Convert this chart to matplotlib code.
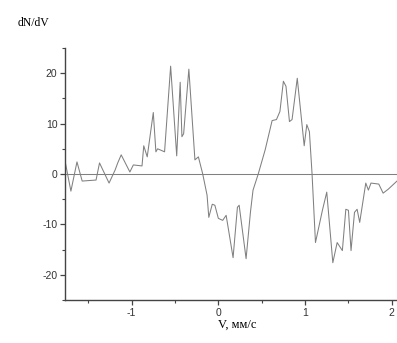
import numpy as np
import matplotlib
matplotlib.use("Agg")
import matplotlib.pyplot as plt
from matplotlib.ticker import MultipleLocator

# velocity (mm/s) and derivative dN/dV
velocity = [-1.77, -1.70, -1.63, -1.57, -1.41, -1.37, -1.26, -1.19, -1.16, -1.12,
            -1.02, -0.98, -0.88, -0.86, -0.82, -0.75, -0.72, -0.70, -0.62, -0.55,
            -0.48, -0.44, -0.42, -0.40, -0.34, -0.27, -0.23, -0.18, -0.13, -0.11,
            -0.07, -0.04, 0.00, 0.05, 0.09, 0.17, 0.22, 0.24, 0.32, 0.37,
            0.40, 0.46, 0.54, 0.62, 0.67, 0.71, 0.75, 0.78, 0.82, 0.85,
            0.91, 0.99, 1.02, 1.05, 1.08, 1.12, 1.20, 1.25, 1.32, 1.37,
            1.43, 1.47, 1.50, 1.53, 1.57, 1.60, 1.63, 1.70, 1.73, 1.76,
            1.85, 1.90, 1.96, 2.06]
dndv = [2.8, -3.4, 2.4, -1.4, -1.2, 2.2, -1.8, 0.8, 2.2, 3.8,
        0.4, 1.8, 1.6, 5.6, 3.4, 12.2, 4.4, 5.0, 4.4, 21.4,
        3.6, 18.2, 7.4, 8.0, 20.8, 2.8, 3.4, 0.0, -4.2, -8.6,
        -6.0, -6.2, -8.8, -9.2, -8.2, -16.6, -6.6, -6.2, -16.8, -7.6,
        -3.2, 0.0, 4.8, 10.6, 10.8, 12.4, 18.4, 17.4, 10.4, 10.8,
        19.0, 5.6, 9.8, 8.4, 0.2, -13.6, -7.2, -3.6, -17.6, -13.6,
        -15.2, -7.0, -7.2, -15.2, -7.6, -7.0, -9.6, -1.8, -3.2, -1.8,
        -2.0, -3.8, -3.0, -1.4]

plt.rcParams["axes.unicode_minus"] = False

fig = plt.figure(figsize=(3.97, 3.43), dpi=100)
ax = fig.add_axes([65/397, 1-300/343, 1-65/397, (300-48)/343])

ax.plot(velocity, dndv, color="#808080", lw=0.75)
ax.axhline(0, color="#808080", lw=0.75)

ax.set_xlim(-1.768, 2.06)
ax.set_ylim(-25, 25)
ax.xaxis.set_major_locator(MultipleLocator(1))
ax.xaxis.set_minor_locator(MultipleLocator(0.5))
ax.yaxis.set_major_locator(MultipleLocator(10))
ax.yaxis.set_minor_locator(MultipleLocator(5))

for s in ("top", "right"):
    ax.spines[s].set_visible(False)
for s in ("left", "bottom"):
    ax.spines[s].set_color("#444444")
    ax.spines[s].set_linewidth(1.0)

ax.tick_params(which="major", direction="out", length=3.5, width=0.9,
               color="#444444", labelsize=7.5, labelcolor="#333333", pad=2)
ax.tick_params(which="minor", direction="out", length=2, width=0.8, color="#444444")
for lab in ax.get_xticklabels() + ax.get_yticklabels():
    lab.set_family("Liberation Sans")

fig.text(33/397, 1-23/343, "dN/dV", family="Liberation Serif", fontsize=8.5,
         ha="center", va="center")
fig.text(237/397, 1-325/343, "V, мм/с", family="Liberation Serif", fontsize=9,
         ha="center", va="center")

fig.savefig("out.png", dpi=100)
